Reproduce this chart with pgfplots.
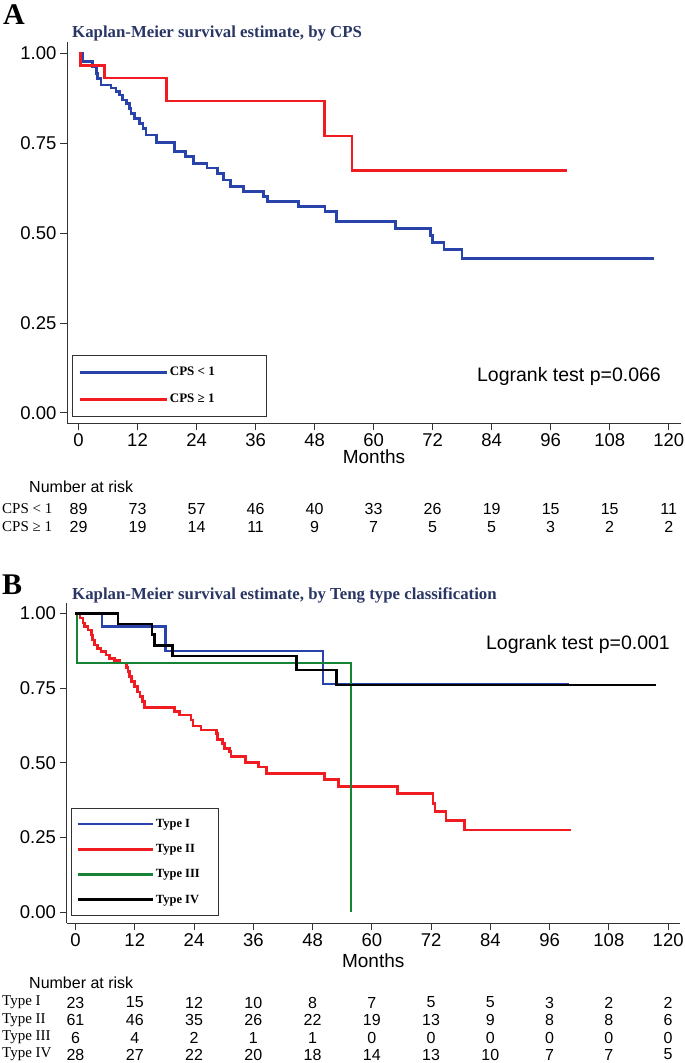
\documentclass[border=0pt]{standalone}
\usepackage{pgfplots}
\pgfplotsset{compat=1.18}
\usepackage{fontspec}
\setmainfont{Liberation Sans}
\newfontfamily\serif{Liberation Serif}
\definecolor{kmblue}{RGB}{40,68,170}
\definecolor{kmred}{RGB}{240,28,34}
\definecolor{kmgreen}{RGB}{22,132,52}
\definecolor{titlenavy}{RGB}{42,54,100}

% ---------- Panel A data ----------
\pgfplotstableread{
t s
0 1
0.9 0.977
2.9 0.963
3.6 0.944
3.9 0.930
4.6 0.912
6.6 0.903
7.6 0.894
8.3 0.884
9.0 0.870
9.7 0.861
10.4 0.847
10.7 0.833
11.4 0.819
12.4 0.805
13.1 0.791
13.7 0.773
15.8 0.752
19.5 0.727
21.7 0.713
23.4 0.693
26.1 0.681
28.2 0.665
29.5 0.648
30.9 0.630
33.6 0.616
37.6 0.602
38.4 0.588
44.7 0.574
50.1 0.560
52.5 0.532
64.5 0.512
71.6 0.493
72.0 0.474
74.3 0.454
78.0 0.430
117.0 0.430
}\cpslow
\pgfplotstableread{
t s
0 1
0.35 0.966
5.3 0.931
17.9 0.867
50.0 0.770
55.6 0.674
99.3 0.674
}\cpshigh

% ---------- Panel B data ----------
\pgfplotstableread{
t s
0 1
5.4 0.955
18.2 0.874
50.1 0.763
100.0 0.763
}\typeI
\pgfplotstableread{
t s
0 1
0.9 0.984
1.5 0.967
1.8 0.955
2.5 0.944
3.2 0.927
3.5 0.911
3.9 0.894
4.5 0.883
5.2 0.872
6.2 0.860
6.9 0.849
7.9 0.841
8.9 0.833
10.3 0.819
10.6 0.805
10.9 0.788
11.3 0.771
12.0 0.754
12.6 0.737
13.1 0.721
13.6 0.704
14.0 0.685
20.0 0.671
21.1 0.660
23.4 0.643
23.8 0.623
25.4 0.609
28.5 0.598
28.8 0.578
29.8 0.565
30.2 0.548
31.2 0.537
31.5 0.520
34.4 0.500
37.1 0.486
38.7 0.464
50.4 0.443
53.2 0.421
65.2 0.397
72.4 0.363
72.8 0.336
75.0 0.306
78.8 0.274
100.4 0.274
}\typeII
\pgfplotstableread{
t s
0 1
0.3 0.833
55.8 0
}\typeIII
\pgfplotstableread{
t s
0 1
8.6 0.964
15.5 0.929
16.0 0.893
19.6 0.857
44.7 0.810
52.8 0.760
117.5 0.760
}\typeIV

\pgfplotsset{
  kmaxis/.style={
    scale only axis,
    axis x line*=bottom, axis y line*=left,
    axis line style={-, line width=0.9pt, black!80},
    every tick/.style={line width=0.9pt, black!80},
    tick align=outside, major tick length=7pt,
    xtick={0,12,...,120}, ytick={0,0.25,0.5,0.75,1},
    scaled ticks=false,
    /pgf/number format/assume math mode=true,
    yticklabel style={/pgf/number format/.cd, fixed, fixed zerofill, precision=2},
    tick label style={font=\fontsize{18.5}{20}\selectfont},
    label style={font=\fontsize{19}{21}\selectfont},
    xlabel={Months},
    clip=false,
    legend cell align=left,
  },
  kmline/.style={const plot mark left, no marks, line width=2.6pt},
}

\newcommand{\rl}[1]{{\serif\fontsize{15}{16}\selectfont #1}}
\newcommand{\rn}{\fontsize{16}{17}\selectfont}

\begin{document}
\begin{tikzpicture}
\useasboundingbox (0pt,0pt) rectangle (685pt,1063pt);

% Panel labels and titles
\node[anchor=base west, inner sep=0pt, font=\serif\bfseries\fontsize{30}{32}\selectfont] at (3pt,1038pt) {A};
\node[anchor=base west, inner sep=0pt, text=titlenavy, font=\serif\bfseries\fontsize{16.8}{18}\selectfont] at (72pt,1025pt) {Kaplan-Meier survival estimate, by CPS};
\node[anchor=base west, inner sep=0pt, font=\serif\bfseries\fontsize{30}{32}\selectfont] at (2pt,468pt) {B};
\node[anchor=base west, inner sep=0pt, text=titlenavy, font=\serif\bfseries\fontsize{16.8}{18}\selectfont] at (72pt,463.7pt) {Kaplan-Meier survival estimate, by Teng type classification};

% ---------------- Panel A ----------------
\begin{axis}[kmaxis,
  at={(67pt,640pt)}, anchor=south west,
  width=614pt, height=381.3pt,
  xmin=-2.34, xmax=122.5, ymin=-0.028, ymax=1.032,
  xlabel style={at={(axis description cs:0.5,0)}, anchor=center, yshift=-34pt},
  legend style={at={(0.008,0.016)}, anchor=south west, draw=black!80, line width=0.8pt,
    font=\serif\bfseries\fontsize{13}{14}\selectfont, row sep=13pt,
    inner xsep=6pt, inner ysep=10pt},
  legend image code/.code={\draw[#1, line width=2.6pt] (0pt,0pt) -- (72pt,0pt); \path (0pt,0pt) -- (87pt,0pt);},
]
\addplot[kmline, kmblue] table[x=t,y=s] {\cpslow};
\addlegendentry{\makebox[88pt][l]{CPS < 1}}
\addplot[kmline, kmred] table[x=t,y=s] {\cpshigh};
\addlegendentry{\makebox[88pt][l]{CPS ≥ 1}}

\node[anchor=west, inner sep=0pt, font=\fontsize{19.5}{21}\selectfont] at (axis cs:81.0,0.10) {Logrank test p=0.066};

\node[anchor=west, inner sep=0pt, font=\fontsize{16}{17}\selectfont] at (axis cs:-10.06,-0.2057) {Number at risk};
\node[anchor=west, inner sep=0pt] at (axis cs:-15.55,-0.267) {\rl{CPS < 1}};
\node[anchor=west, inner sep=0pt] at (axis cs:-15.55,-0.317) {\rl{CPS ≥ 1}};
\foreach \xx/\aa/\bb in {0/89/29,12/73/19,24/57/14,36/46/11,48/40/9,60/33/7,72/26/5,84/19/5,96/15/3,108/15/2,120/11/2}{
  \edef\tmp{\noexpand\node[font=\noexpand\rn, inner sep=0pt] at (axis cs:\xx,-0.267) {\aa};
    \noexpand\node[font=\noexpand\rn, inner sep=0pt] at (axis cs:\xx,-0.317) {\bb};}
  \tmp
}
\end{axis}

% ---------------- Panel B ----------------
\begin{axis}[kmaxis,
  at={(66.5pt,140pt)}, anchor=south west,
  width=613.5pt, height=319.7pt,
  xmin=-1.82, xmax=122.4, ymin=-0.0368, ymax=1.0335,
  xlabel style={at={(axis description cs:0.5,0)}, anchor=center, yshift=-38pt},
  legend style={at={(0.0073,0.022)}, anchor=south west, draw=black!80, line width=0.8pt,
    font=\serif\bfseries\fontsize{12.5}{13.5}\selectfont, row sep=11.5pt,
    inner xsep=5pt, inner ysep=9pt},
  legend image code/.code={\draw[#1, line width=2.6pt] (0pt,0pt) -- (67pt,0pt); \path (0pt,0pt) -- (75pt,0pt);},
]
\addplot[kmline, kmblue] table[x=t,y=s] {\typeI};
\addlegendentry{\makebox[55pt][l]{Type I}}
\addplot[kmline, kmred] table[x=t,y=s] {\typeII};
\addlegendentry{\makebox[55pt][l]{Type II}}
\addplot[kmline, kmgreen] table[x=t,y=s] {\typeIII};
\addlegendentry{\makebox[55pt][l]{Type III}}
\addplot[kmline, black] table[x=t,y=s] {\typeIV};
\addlegendentry{\makebox[55pt][l]{Type IV}}

\node[anchor=west, inner sep=0pt, font=\fontsize{19.5}{21}\selectfont] at (axis cs:83.1,0.897) {Logrank test p=0.001};

\node[anchor=west, inner sep=0pt, font=\fontsize{16}{17}\selectfont] at (axis cs:-9.41,-0.2377) {Number at risk};
\node[anchor=west, inner sep=0pt] at (axis cs:-14.88,-0.303) {\rl{Type I}};
\node[anchor=west, inner sep=0pt] at (axis cs:-14.88,-0.3616) {\rl{Type II}};
\node[anchor=west, inner sep=0pt] at (axis cs:-14.88,-0.4202) {\rl{Type III}};
\node[anchor=west, inner sep=0pt] at (axis cs:-14.88,-0.4771) {\rl{Type IV}};
\foreach \xx/\aa/\bb/\cc/\dd in {0/23/61/6/28,12/15/46/4/27,24/12/35/2/22,36/10/26/1/20,48/8/22/1/18,60/7/19/0/14,72/5/13/0/13,84/5/9/0/10,96/3/8/0/7,108/2/8/0/7,120/2/6/0/5}{
  \edef\tmp{\noexpand\node[font=\noexpand\rn, inner sep=0pt] at (axis cs:\xx,-0.303) {\aa};
    \noexpand\node[font=\noexpand\rn, inner sep=0pt] at (axis cs:\xx,-0.3616) {\bb};
    \noexpand\node[font=\noexpand\rn, inner sep=0pt] at (axis cs:\xx,-0.4202) {\cc};
    \noexpand\node[font=\noexpand\rn, inner sep=0pt] at (axis cs:\xx,-0.4771) {\dd};}
  \tmp
}
\end{axis}
\end{tikzpicture}
\end{document}
